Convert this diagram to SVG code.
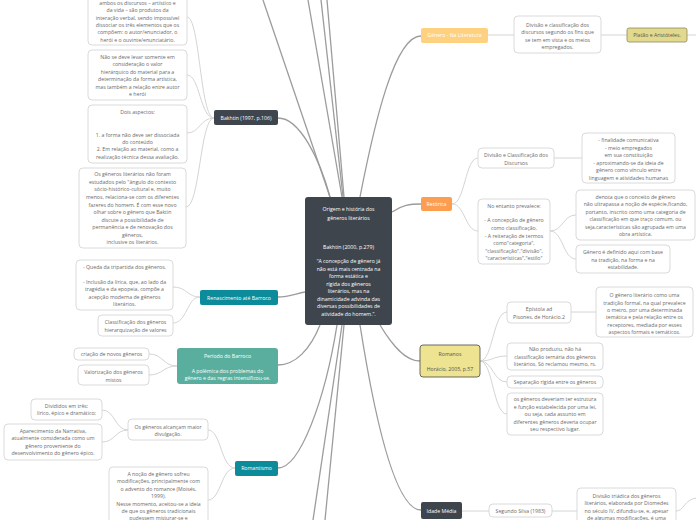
<svg xmlns="http://www.w3.org/2000/svg" width="696" height="520" viewBox="0 0 696 520">
<style>
.bg{fill:#ffffff}
.box{fill:#ffffff;stroke:#d6d6d6;stroke-width:0.9}
.t{font-family:"Open Sans","Noto Sans","DejaVu Sans",sans-serif;font-size:5.2px;fill:#6a6a6a;text-anchor:middle}
.tw{font-family:"Open Sans","Noto Sans","DejaVu Sans",sans-serif;font-size:5.2px;fill:#ffffff;text-anchor:middle}
.td{font-family:"Open Sans","Noto Sans","DejaVu Sans",sans-serif;font-size:5.2px;fill:#555555;text-anchor:middle}
.dark{fill:#3e454d}
.teal{fill:#0c8b9b}
.green{fill:#5aae9e}
.c1{fill:none;stroke:#cfcfcf;stroke-width:0.9}
.c0{fill:none;stroke:#9c9c9c;stroke-width:1.3}
</style>
<rect class="bg" x="0" y="0" width="696" height="520"/>

<g id="connectors">
  <!-- main -->
  <path class="c0" d="M330,197 C320,160 300,118 278,118"/>
  <path class="c0" d="M330,197 L263,0"/>
  <path class="c0" d="M342,197 L308,0"/>
  <path class="c0" d="M343,197 L321,0"/>
  <path class="c0" d="M344,197 L327,0"/>
  <path class="c0" d="M360,197 C375,120 395,36 421,36"/>
  <path class="c0" d="M392,212 C402,205 410,204 421,204"/>
  <path class="c0" d="M305,292 C295,294 288,297 278,297"/>
  <path class="c0" d="M320,325 C310,350 295,365 278,365"/>
  <path class="c0" d="M337,325 C325,400 300,468 278,468"/>
  <path class="c0" d="M342,325 L313,520"/>
  <path class="c0" d="M344,325 L325,520"/>
  <path class="c0" d="M360,325 C375,420 395,510 421,510"/>
  <path class="c0" d="M380,325 C392,345 405,361 420,361"/>
  <!-- Bakhtin children -->
  <path class="c1" d="M214,118 C200,118 200,17 187,17"/>
  <path class="c1" d="M214,118 C200,118 200,75 187,75"/>
  <path class="c1" d="M214,118 C200,118 200,133 187,133"/>
  <path class="c1" d="M214,118 C200,118 200,207 186,207"/>
  <!-- Renascimento -->
  <path class="c1" d="M200,297 C187,297 187,287 173,287"/>
  <path class="c1" d="M200,297 C187,297 187,323 173,323"/>
  <!-- Periodo -->
  <path class="c1" d="M177,366 C163,366 163,354 149,354"/>
  <path class="c1" d="M177,366 C163,366 163,375 149,375"/>
  <!-- Romantismo -->
  <path class="c1" d="M235,468 C221,468 221,430 208,430"/>
  <path class="c1" d="M235,468 C221,468 221,500 208,500"/>
  <path class="c1" d="M128,430 C115,430 115,410 102,410"/>
  <path class="c1" d="M128,430 C115,430 115,442 102,442"/>
  <!-- Genero -->
  <path class="c1" d="M488,35 L514,35"/>
  <path class="c1" d="M601,35 L627,35"/>
  <path class="c1" d="M687,35 L696,35"/>
  <!-- Retorica -->
  <path class="c1" d="M452,204 C465,204 465,158 478,158"/>
  <path class="c1" d="M452,204 C465,204 465,231 478,231"/>
  <path class="c1" d="M554,158 L582,158"/>
  <path class="c1" d="M550,231 C563,231 563,215 576,215"/>
  <path class="c1" d="M550,231 C563,231 563,259 576,259"/>
  <!-- Romanos -->
  <path class="c1" d="M480,361 C493,361 493,312 507,312"/>
  <path class="c1" d="M480,361 C493,361 493,356 507,356"/>
  <path class="c1" d="M480,361 C493,361 493,382 507,382"/>
  <path class="c1" d="M480,361 C493,361 493,414 507,414"/>
  <path class="c1" d="M571,312 L596,312"/>
  <!-- Idade Media -->
  <path class="c1" d="M462,511 L489,511"/>
  <path class="c1" d="M552,511 L577,511"/>
  <path class="c1" d="M676,511 C684,511 684,500 696,498"/>
</g>

<g id="central">
  <rect class="dark" x="305" y="197" width="87" height="128" rx="3"/>
  <text class="tw" x="348.5" y="211">Origem e história dos</text>
  <text class="tw" x="348.5" y="220">gêneros literários</text>
  <text class="tw" x="348.5" y="249">Bakhtin (2000, p.279)</text>
  <text class="tw" x="348.5" y="263">“A concepção de gênero já</text>
  <text class="tw" x="348.5" y="270.5">não está mais centrada na</text>
  <text class="tw" x="348.5" y="278">forma estática e</text>
  <text class="tw" x="348.5" y="285.5">rígida dos gêneros</text>
  <text class="tw" x="348.5" y="293">literários, mas na</text>
  <text class="tw" x="348.5" y="300.5">dinamicidade advinda das</text>
  <text class="tw" x="348.5" y="308">diversas possibilidades de</text>
  <text class="tw" x="348.5" y="315.5">atividade do homem.”.</text>
</g>

<g id="bakhtin1997">
  <rect class="dark" x="214" y="110" width="64" height="15" rx="2"/>
  <text class="tw" x="246" y="119.6">Bakhtin (1997, p.106)</text>
</g>
<g id="b-ambos">
  <rect class="box" x="88" y="-40" width="99" height="85" rx="4"/>
  <text class="t" x="137.5" y="5">ambos os discursos – artístico e</text>
  <text class="t" x="137.5" y="12.3">da vida – são produtos da</text>
  <text class="t" x="137.5" y="19.7">interação verbal, sendo impossível</text>
  <text class="t" x="137.5" y="27">dissociar os três elementos que os</text>
  <text class="t" x="137.5" y="34.4">compõem: o autor/enunciador, o</text>
  <text class="t" x="137.5" y="41.7">herói e o ouvinte/enunciatário.</text>
</g>
<g id="b-naose">
  <rect class="box" x="88" y="50" width="99" height="50" rx="4"/>
  <text class="t" x="137.5" y="58.8">Não se deve levar somente em</text>
  <text class="t" x="137.5" y="66.3">consideração o valor</text>
  <text class="t" x="137.5" y="73.8">hierárquico do material para a</text>
  <text class="t" x="137.5" y="81.3">determinação da forma artística,</text>
  <text class="t" x="137.5" y="88.8">mas também a relação entre autor</text>
  <text class="t" x="137.5" y="96.3">e herói</text>
</g>
<g id="b-dois">
  <rect class="box" x="88" y="105" width="99" height="58" rx="4"/>
  <text class="t" x="137.5" y="113.8">Dois aspectos:</text>
  <text class="t" x="137.5" y="136.6">1.  a forma não deve ser dissociada</text>
  <text class="t" x="137.5" y="143.9">do conteúdo</text>
  <text class="t" x="137.5" y="151.4">2. Em relação ao material, como a</text>
  <text class="t" x="137.5" y="158.8">realização técnica dessa avaliação.</text>
</g>
<g id="b-osgeneros">
  <rect class="box" x="79" y="168" width="107" height="80" rx="4"/>
  <text class="t" x="132.5" y="175.8">Os gêneros literários não foram</text>
  <text class="t" x="132.5" y="183.5">estudados pelo "ângulo do contexto</text>
  <text class="t" x="132.5" y="191.1">sócio-histórico-cultural e, muito</text>
  <text class="t" x="132.5" y="198.8">menos, relaciona-se com os diferentes</text>
  <text class="t" x="132.5" y="206.5">fazeres do homem. É com esse novo</text>
  <text class="t" x="132.5" y="214.1">olhar sobre o gênero que Baktin</text>
  <text class="t" x="132.5" y="221.8">discute a possibilidade de</text>
  <text class="t" x="132.5" y="229.1">permanência e de renovação dos</text>
  <text class="t" x="132.5" y="236.8">gêneros,</text>
  <text class="t" x="132.5" y="244.1">inclusive os literários.</text>
</g>

<g id="renascimento">
  <rect class="teal" x="200" y="290" width="78" height="15" rx="2"/>
  <text class="tw" x="239" y="299.5">Renascimento até Barroco</text>
</g>
<g id="r-queda">
  <rect class="box" x="76" y="260" width="97" height="50" rx="4"/>
  <text class="t" x="124.5" y="268.5">- Queda da tripartida dos gêneros.</text>
  <text class="t" x="124.5" y="283.5">- Inclusão da lírica, que, ao lado da</text>
  <text class="t" x="124.5" y="291.1">tragédia e da epopeia, compõe a</text>
  <text class="t" x="124.5" y="299.1">acepção moderna de gêneros</text>
  <text class="t" x="124.5" y="306.1">literários.</text>
</g>
<g id="r-classif">
  <rect class="box" x="98" y="315" width="75" height="21" rx="4"/>
  <text class="t" x="135.5" y="323.5">Classificação dos gêneros</text>
  <text class="t" x="135.5" y="331.8">hierarquização de valores</text>
</g>

<g id="barroco">
  <rect class="green" x="177" y="348" width="101" height="36" rx="3"/>
  <text class="tw" x="227.5" y="357.5">Período do Barroco</text>
  <text class="tw" x="227.5" y="372.8">A polêmica dos problemas do</text>
  <text class="tw" x="227.5" y="380.1">gênero e das regras intensificou-se.</text>
</g>
<g id="p-criacao">
  <rect class="box" x="74" y="348" width="75" height="12" rx="4"/>
  <text class="t" x="111.5" y="355.8">criação de novos gêneros</text>
</g>
<g id="p-valor">
  <rect class="box" x="78" y="365" width="71" height="20" rx="4"/>
  <text class="t" x="113.5" y="373.8">Valorização dos gêneros</text>
  <text class="t" x="113.5" y="381.8">mistos</text>
</g>

<g id="romantismo">
  <rect class="teal" x="235" y="461" width="43" height="15" rx="2"/>
  <text class="tw" x="256.5" y="470.3">Romantismo</text>
</g>
<g id="ro-alcancam">
  <rect class="box" x="128" y="419" width="80" height="21" rx="4"/>
  <text class="t" x="168" y="428.5">Os gêneros alcançam maior</text>
  <text class="t" x="168" y="435.8">divulgação.</text>
</g>
<g id="ro-divididos">
  <rect class="box" x="31" y="399" width="71" height="21" rx="4"/>
  <text class="t" x="66.5" y="407.5">Divididos em três:</text>
  <text class="t" x="66.5" y="415.1">lírico, épico e dramático;</text>
</g>
<g id="ro-aparec">
  <rect class="box" x="4" y="424" width="98" height="36" rx="4"/>
  <text class="t" x="53" y="432.8">Aparecimento da Narrativa,</text>
  <text class="t" x="53" y="440.1">atualmente considerada como um</text>
  <text class="t" x="53" y="447.5">gênero proveniente do</text>
  <text class="t" x="53" y="454.8">desenvolvimento do gênero épico.</text>
</g>
<g id="ro-nocao">
  <rect class="box" x="109" y="467" width="99" height="80" rx="4"/>
  <text class="t" x="158.5" y="475.8">A noção de gênero sofreu</text>
  <text class="t" x="158.5" y="483.1">modificações, principalmente com</text>
  <text class="t" x="158.5" y="490.8">o advento do romance (Moisés,</text>
  <text class="t" x="158.5" y="498.1">1999).</text>
  <text class="t" x="158.5" y="505.5">Nesse momento, aceitou-se a ideia</text>
  <text class="t" x="158.5" y="512.8">de que os gêneros tradicionais</text>
  <text class="t" x="158.5" y="520.1">pudessem misturar-se e</text>
</g>

<g id="genero-lit">
  <rect x="421" y="28" width="67" height="15" rx="2" fill="#fdd17f"/>
  <text class="tw" x="454.5" y="37.3">Gênero - Na Literatura</text>
</g>
<g id="g-divisao">
  <rect class="box" x="514" y="16" width="87" height="37" rx="4"/>
  <text class="t" x="557.5" y="26.8">Divisão e classificação dos</text>
  <text class="t" x="557.5" y="34.1">discursos segundo os fins que</text>
  <text class="t" x="557.5" y="41.5">se tem em vista e os meios</text>
  <text class="t" x="557.5" y="48.8">empregados.</text>
</g>
<g id="platao">
  <rect x="627" y="28" width="60" height="14" rx="2" fill="#e3d98c" stroke="#8d8a62" stroke-width="0.8"/>
  <text class="td" x="657" y="36.8">Platão e Aristóteles.</text>
</g>

<g id="retorica">
  <rect x="421" y="197" width="31" height="14" rx="2" fill="#fd9d50"/>
  <text class="tw" x="436.5" y="205.8">Retórica</text>
</g>
<g id="re-divisao">
  <rect class="box" x="478" y="148" width="76" height="20" rx="4"/>
  <text class="t" x="516" y="156.8">Divisão e Classificação dos</text>
  <text class="t" x="516" y="164.5">Discursos</text>
</g>
<g id="re-finalidade">
  <rect class="box" x="582" y="133" width="93" height="50" rx="4"/>
  <text class="t" x="628.5" y="141.8">- finalidade comunicativa</text>
  <text class="t" x="628.5" y="149.5">- meio empregados</text>
  <text class="t" x="628.5" y="156.8">em sua constituição</text>
  <text class="t" x="628.5" y="164.5">- aproximando-se da ideia de</text>
  <text class="t" x="628.5" y="171.8">gênero como vínculo entre</text>
  <text class="t" x="628.5" y="179.5">linguagem e atividades humanas</text>
</g>
<g id="re-noentanto">
  <rect class="box" x="478" y="199" width="72" height="65" rx="4"/>
  <text class="t" x="514" y="207.8">No entanto prevalece:</text>
  <text class="t" x="514" y="222.3">- A concepção de gênero</text>
  <text class="t" x="514" y="230.1">como classificação.</text>
  <text class="t" x="514" y="237.8">- A reiteração de termos</text>
  <text class="t" x="514" y="245.1">como"categoria",</text>
  <text class="t" x="514" y="252.5">"classificação","divisão",</text>
  <text class="t" x="514" y="260.1">"características","estilo"</text>
</g>
<g id="re-denota">
  <rect class="box" x="576" y="190" width="119" height="50" rx="4"/>
  <text class="t" x="635.5" y="198.5">denota que o conceito de gênero</text>
  <text class="t" x="635.5" y="206.1">não ultrapassa a noção de espécie,ficando,</text>
  <text class="t" x="635.5" y="213.5">portanto, inscrito como uma categoria de</text>
  <text class="t" x="635.5" y="221.1">classificação em que traço comum, ou</text>
  <text class="t" x="635.5" y="228.5">seja,características são agrupada em uma</text>
  <text class="t" x="635.5" y="236.1">obra artística.</text>
</g>
<g id="re-definido">
  <rect class="box" x="576" y="245" width="94" height="28" rx="4"/>
  <text class="t" x="623" y="254.1">Gênero é definido aqui com base</text>
  <text class="t" x="623" y="261.8">na tradição, na forma e na</text>
  <text class="t" x="623" y="269.1">estabilidade.</text>
</g>

<g id="romanos">
  <rect x="420" y="345" width="60" height="32" rx="3" fill="#ede390" stroke="#5a5a52" stroke-width="0.9"/>
  <text class="td" x="450" y="355.8">Romanos</text>
  <text class="td" x="450" y="371.1">Horácio, 2005, p.57</text>
</g>
<g id="rm-epistola">
  <rect class="box" x="507" y="302" width="64" height="21" rx="4"/>
  <text class="t" x="539" y="310.8">Epístola ad</text>
  <text class="t" x="539" y="318.5">Pisones, de Horácio.2</text>
</g>
<g id="rm-ogenero">
  <rect class="box" x="596" y="287" width="97" height="50" rx="4"/>
  <text class="t" x="644.5" y="296.8">O gênero literário como uma</text>
  <text class="t" x="644.5" y="304.5">tradição formal, na qual prevalece</text>
  <text class="t" x="644.5" y="311.8">o metro, por uma determinada</text>
  <text class="t" x="644.5" y="319.1">temática e pela relação entre os</text>
  <text class="t" x="644.5" y="326.8">receptores, mediada por esses</text>
  <text class="t" x="644.5" y="334.1">aspectos formais e temáticos.</text>
</g>
<g id="rm-naoproduziu">
  <rect class="box" x="507" y="343" width="96" height="27" rx="4"/>
  <text class="t" x="555" y="351.1">Não produziu, não há</text>
  <text class="t" x="555" y="358.8">classificação ternária dos gêneros</text>
  <text class="t" x="555" y="366.1">literários. Só reclamou mesmo, rs.</text>
</g>
<g id="rm-separacao">
  <rect class="box" x="507" y="376" width="96" height="12" rx="4"/>
  <text class="t" x="555" y="383.8">Separação rígida entre os gêneros</text>
</g>
<g id="rm-deveriam">
  <rect class="box" x="507" y="393" width="96" height="42" rx="4"/>
  <text class="t" x="555" y="400.8">os gêneros deveriam ter estrutura</text>
  <text class="t" x="555" y="408.5">e função estabelecida por uma lei,</text>
  <text class="t" x="555" y="415.8">ou seja, cada assunto em</text>
  <text class="t" x="555" y="423.5">diferentes gêneros deveria ocupar</text>
  <text class="t" x="555" y="430.8">seu respectivo lugar.</text>
</g>

<g id="idade-media">
  <rect class="dark" x="421" y="502" width="41" height="17" rx="2"/>
  <text class="tw" x="441.5" y="512.8">Idade Média</text>
</g>
<g id="im-silva">
  <rect class="box" x="489" y="504" width="63" height="13" rx="4"/>
  <text class="t" x="520.5" y="512.8">Segundo Silva (1983)</text>
</g>
<g id="im-divisao">
  <rect class="box" x="577" y="488" width="99" height="50" rx="4"/>
  <text class="t" x="626.5" y="497.8">Divisão triádica dos gêneros</text>
  <text class="t" x="626.5" y="505.1">literários, elaborada por Diomedes</text>
  <text class="t" x="626.5" y="512.8">no século IV, difundiu-se, e, apesar</text>
  <text class="t" x="626.5" y="520.1">de algumas modificações, é uma</text>
</g>
</svg>
